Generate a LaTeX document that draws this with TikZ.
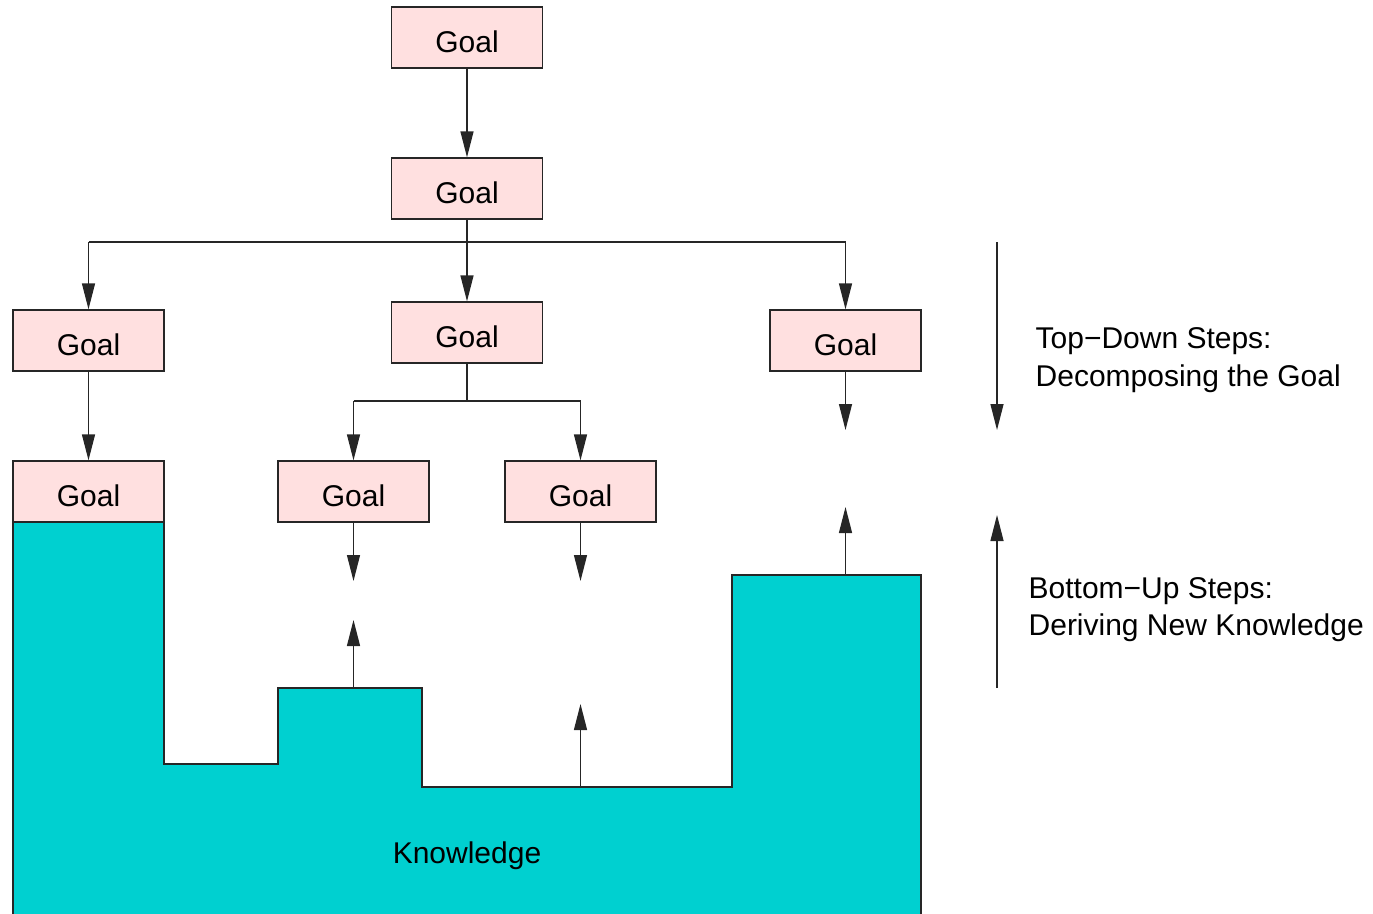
\documentclass[tikz,border=0pt]{standalone}
\usepackage{fontspec}
\setmainfont{Liberation Sans}
\usetikzlibrary{arrows.meta}
\definecolor{goalpink}{RGB}{255,224,224}
\definecolor{knowcyan}{RGB}{0,208,208}
\begin{document}
\begin{tikzpicture}[x=1pt,y=-1pt,
  line width=1.3pt,
  every node/.style={font=\fontsize{30}{36}\selectfont},
  goal/.style={draw=black!85, fill=goalpink, rectangle, minimum width=151pt, minimum height=61pt, inner sep=0pt, text height=30pt, text depth=0pt},
  arr/.style={-{Triangle[length=26pt,width=13pt]}, draw=black!85},
  ln/.style={draw=black!85}]
\useasboundingbox (0,0) rectangle (1373,913);

% knowledge region
\draw[ln, fill=knowcyan] (13,522) -- (164,522) -- (164,764) -- (278,764) -- (278,688) -- (422,688) -- (422,787) -- (732,787) -- (732,575) -- (921,575) -- (921,918) -- (13,918) -- cycle;
\node (know) [anchor=base] at (467,863) {Knowledge};

% goals
\node[goal] (g1) at (467,37.5) {Goal};
\node[goal] (g2) at (467,188.5) {Goal};
\node[goal] (g3) at (88.5,340.5) {Goal};
\node[goal] (g4) at (467,332.5) {Goal};
\node[goal] (g5) at (845.5,340.5) {Goal};
\node[goal] (g6) at (88.5,491.5) {Goal};
\node[goal] (g7) at (353.5,491.5) {Goal};
\node[goal] (g8) at (580.5,491.5) {Goal};

% coordinates
\coordinate (b1) at (467,242);
\coordinate (b1l) at (88.5,242);
\coordinate (b1r) at (845.5,242);
\coordinate (b2) at (467,401);
\coordinate (b2l) at (353.5,401);
\coordinate (b2r) at (580.5,401);
\coordinate (e5) at (845.5,430);
\coordinate (e7) at (353.5,581);
\coordinate (e8) at (580.5,581);
\coordinate (k7) at (353.5,688);
\coordinate (u7) at (353.5,620);
\coordinate (k8) at (580.5,787);
\coordinate (u8) at (580.5,704);
\coordinate (k5) at (845.5,575);
\coordinate (u5) at (845.5,507);
\coordinate (td1) at (997,242);
\coordinate (td2) at (997,430);
\coordinate (bu1) at (997,688);
\coordinate (bu2) at (997,515);

% connectors
\draw[arr] (g1) -- (g2);
\draw[ln] (g2.south) -- (b1);
\draw[ln] (b1l) -- (b1r);
\draw[arr] (b1l) -- (g3.north);
\draw[arr] (b1) -- (g4.north);
\draw[arr] (b1r) -- (g5.north);
\draw[arr] (g3) -- (g6);
\draw[ln] (g4.south) -- (b2);
\draw[ln] (b2l) -- (b2r);
\draw[arr] (b2l) -- (g7.north);
\draw[arr] (b2r) -- (g8.north);
\draw[arr] (g5.south) -- (e5);
\draw[arr] (g7.south) -- (e7);
\draw[arr] (g8.south) -- (e8);
\draw[arr] (k7) -- (u7);
\draw[arr] (k8) -- (u8);
\draw[arr] (k5) -- (u5);
\draw[arr] (td1) -- (td2);
\draw[arr] (bu1) -- (bu2);

% side texts
\node (td) [anchor=base west, align=left, inner sep=0pt, font=\fontsize{30}{38}\selectfont] at (1035,386) {Top−Down Steps:\\Decomposing the Goal};
\node (bu) [anchor=base west, align=left, inner sep=0pt, font=\fontsize{30}{37}\selectfont] at (1028,635) {Bottom−Up Steps:\\Deriving New Knowledge};
\end{tikzpicture}
\end{document}
